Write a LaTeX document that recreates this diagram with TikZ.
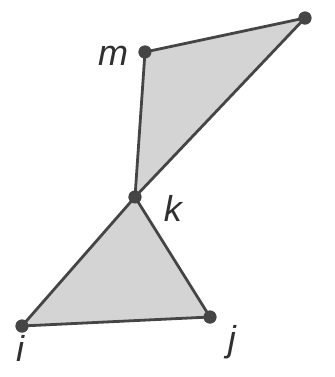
\documentclass[tikz,border=0pt]{standalone}
\usepackage{fontspec}
\setmainfont{Liberation Sans}
\usetikzlibrary{positioning}
\definecolor{vtcinza}{HTML}{454545}
\definecolor{vtcinzaclaro}{HTML}{D4D4D4}
\definecolor{vttexto}{HTML}{303030}
\tikzset{
  vtponto/.style={circle, fill=vtcinza, inner sep=0pt, minimum size=6.5pt},
  vtaresta/.style={draw=vtcinza, line width=1.4pt},
  vtpreenche/.style={fill=vtcinzaclaro},
  vtrotulo/.style={font=\fontsize{18}{20}\selectfont\itshape, text=vttexto, inner sep=0pt},
}
\begin{document}
\begin{tikzpicture}[x=0.5pt, y=-0.5pt]
        \useasboundingbox (0,0) rectangle (334,377);
        \clip (0,0) rectangle (334,377);
        % ---------------- vertices ----------------
        \node[vtponto] (m) at (145,52) {};
        \node[vtponto] (l) at (305,18) {};
        \node[vtponto] (k) at (135,197) {};
        \node[vtponto] (i) at (22,326) {};
        \node[vtponto] (j) at (210,317) {};
        % ---------------- faces ----------------
        \fill[vtpreenche] (m.center) -- (l.center) -- (k.center) -- cycle;
        \fill[vtpreenche] (k.center) -- (i.center) -- (j.center) -- cycle;
        % ---------------- arestas ----------------
        \draw[vtaresta] (m.center) -- (l.center);
        \draw[vtaresta] (l.center) -- (k.center);
        \draw[vtaresta] (k.center) -- (m.center);
        \draw[vtaresta] (k.center) -- (i.center);
        \draw[vtaresta] (i.center) -- (j.center);
        \draw[vtaresta] (j.center) -- (k.center);
        % ---------------- pontos por cima ----------------
        \foreach \v in {m,l,k,i,j}
          \node[vtponto] at (\v) {};
        % ---------------- rotulos ----------------
        \node[vtrotulo] (rm) at (113,56) {m};
        \node[vtrotulo] (rl) at (339,31) {l};
        \node[vtrotulo] (rk) at (173,208) {k};
        \node[vtrotulo] (ri) at (20,348) {i};
        \node[vtrotulo] (rj) at (232,342) {j};
    \end{tikzpicture}
\end{document}
